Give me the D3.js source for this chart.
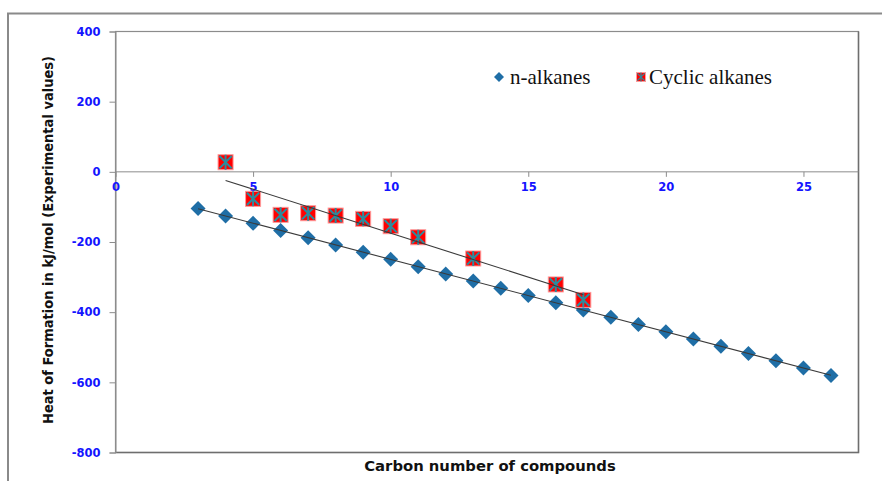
<!DOCTYPE html>
<html>
<head>
<meta charset="utf-8">
<script src="https://cdn.jsdelivr.net/npm/d3@7"></script>
<style>
  html, body { margin: 0; padding: 0; background: #fff; }
  svg { display: block; }
</style>
</head>
<body>
<svg id="chart" width="882" height="481"></svg>
<script>
// ---------- data ----------
const nAlkaneCarbons = [3,4,5,6,7,8,9,10,11,12,13,14,15,16,17,18,19,20,21,22,23,24,25,26];
const nAlkaneValues  = [-104.7,-125.6,-146.9,-167.2,-187.8,-208.4,-228.9,-249.5,-270.3,-290.9,
                        -311.5,-332.1,-352.8,-373.4,-393.9,-414.6,-435.1,-455.8,-476.4,-497.0,
                        -517.6,-538.2,-558.8,-580.5];
const cyclicCarbons  = [4,5,6,7,8,9,10,11,13,16,17];
const cyclicValues   = [27.4,-77.0,-122.6,-118.0,-124.6,-134.0,-155.0,-186.5,-247.0,-321.0,-365.0];
const xTickValues = [0,5,10,15,20,25];
const yTickValues = [400,200,0,-200,-400,-600,-800];
const seriesNames = ["n-alkanes","Cyclic alkanes"];
const xTitle = "Carbon number of compounds";
const yTitle = "Heat of Formation in kJ/mol (Experimental values)";

// ---------- layout ----------
const svg = d3.select("#chart");
const plot = {left: 115.5, top: 31.5, right: 858.5, bottom: 452.5};

const x = d3.scaleLinear().domain([0, 27]).range([plot.left, plot.right]);
const y = d3.scaleLinear().domain([-800, 400]).range([plot.bottom, plot.top]);

// outer chart frame
svg.append("path")
  .attr("d", `M8,490 L8,13.5 L890,13.5`)
  .attr("fill", "none").attr("stroke", "#8a8a8a").attr("stroke-width", 2);

// plot area box
svg.append("rect")
  .attr("x", plot.left).attr("y", plot.top)
  .attr("width", plot.right - plot.left).attr("height", plot.bottom - plot.top)
  .attr("fill", "#fff").attr("stroke", "#8c8c8c").attr("stroke-width", 1.2);
svg.append("path")
  .attr("d", `M${plot.right},${plot.top} L${plot.right},${plot.bottom} L${plot.left},${plot.bottom}`)
  .attr("fill", "none").attr("stroke", "#6e6e6e").attr("stroke-width", 1.5);

// y axis
const yAxis = d3.axisLeft(y).tickValues(yTickValues).tickSize(6).tickPadding(9)
  .tickFormat(d3.format("d"));
const gy = svg.append("g").attr("transform", `translate(${plot.left},0)`).call(yAxis);
gy.select(".domain").attr("stroke", "#8c8c8c");
gy.selectAll(".tick line").attr("stroke", "#8c8c8c");
gy.selectAll(".tick text")
  .attr("fill", "#1414ff").attr("font-family", "DejaVu Sans").attr("font-weight", "bold")
  .attr("font-size", 11.5).text(d => d < 0 ? "-" + Math.abs(d) : d);

// x axis at y=0
const xAxis = d3.axisBottom(x).tickValues(xTickValues).tickSize(5).tickPadding(6)
  .tickFormat(d3.format("d"));
const gx = svg.append("g").attr("transform", `translate(0,${y(0)})`).call(xAxis);
gx.select(".domain").attr("stroke", "#8c8c8c").attr("d", `M${plot.left},0H${plot.right}`);
gx.selectAll(".tick line").attr("stroke", "#8c8c8c");
gx.selectAll(".tick text")
  .attr("fill", "#1414ff").attr("font-family", "DejaVu Sans").attr("font-weight", "bold")
  .attr("font-size", 11.5);

// ---------- trend lines (least squares from the data) ----------
function fit(xs, ys) {
  const mx = d3.mean(xs), my = d3.mean(ys);
  let sxy = 0, sxx = 0;
  xs.forEach((v, i) => { sxy += (v - mx) * (ys[i] - my); sxx += (v - mx) * (v - mx); });
  const b = sxy / sxx;
  return {b, a: my - b * mx};
}
function trend(xs, ys) {
  const f = fit(xs, ys);
  const x0 = d3.min(xs), x1 = d3.max(xs);
  svg.append("line")
    .attr("x1", x(x0)).attr("y1", y(f.a + f.b * x0))
    .attr("x2", x(x1)).attr("y2", y(f.a + f.b * x1))
    .attr("stroke", "#3a3a3a").attr("stroke-width", 1.1);
}

// ---------- markers ----------
const blue = "#1f6ea6";
const teal = "#2b8c9e";
function diamond(g, cx, cy, r) {
  g.append("path")
    .attr("d", `M${cx},${cy - r} L${cx + r},${cy} L${cx},${cy + r} L${cx - r},${cy} Z`)
    .attr("fill", blue);
}
function cycMarker(g, cx, cy, h) {
  g.append("rect").attr("x", cx - h).attr("y", cy - h).attr("width", 2 * h).attr("height", 2 * h)
    .attr("fill", "#ff0000").attr("stroke", "#ff9a9a").attr("stroke-width", 1);
  const k = h * 0.82;
  const p = `M${cx - k},${cy - k}L${cx + k},${cy + k}M${cx - k},${cy + k}L${cx + k},${cy - k}` +
            `M${cx},${cy - h}L${cx},${cy + h}`;
  g.append("path").attr("d", p).attr("stroke", teal).attr("stroke-width", h > 6 ? 2 : 1.2)
    .attr("fill", "none");
}

const gN = svg.append("g");
nAlkaneCarbons.forEach((c, i) => diamond(gN, x(c), y(nAlkaneValues[i]), 7.5));
trend(nAlkaneCarbons, nAlkaneValues);

const gC = svg.append("g");
cyclicCarbons.forEach((c, i) => cycMarker(gC, x(c), y(cyclicValues[i]), 7.5));
trend(cyclicCarbons, cyclicValues);

// ---------- legend ----------
const lg = svg.append("g");
diamond(lg, 499, 77, 5);
lg.append("text").attr("x", 510).attr("y", 84).text(seriesNames[0])
  .attr("font-family", "Liberation Serif").attr("font-size", 21).attr("fill", "#111");
cycMarker(lg, 641, 77, 4.5);
lg.append("text").attr("x", 649).attr("y", 84).text(seriesNames[1])
  .attr("font-family", "Liberation Serif").attr("font-size", 21).attr("fill", "#111");

// ---------- titles ----------
svg.append("text").attr("x", 490).attr("y", 471).attr("text-anchor", "middle")
  .attr("font-family", "DejaVu Sans").attr("font-weight", "bold").attr("font-size", 14.8)
  .attr("fill", "#111").text(xTitle);
svg.append("text").attr("transform", "translate(53,240) rotate(-90)").attr("text-anchor", "middle")
  .attr("font-family", "DejaVu Sans Condensed, DejaVu Sans").attr("font-stretch", "condensed")
  .attr("font-weight", "bold").attr("font-size", 14.5)
  .attr("fill", "#111").text(yTitle);
</script>
</body>
</html>
